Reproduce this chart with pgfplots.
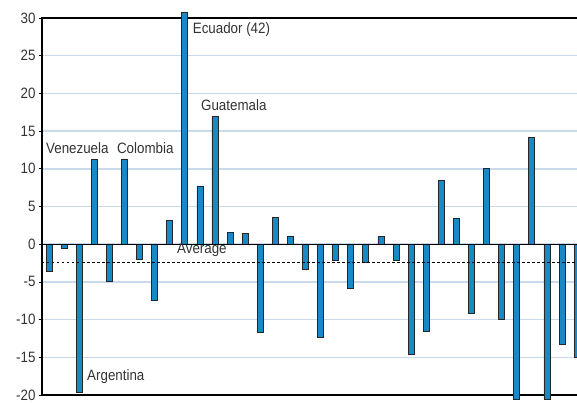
\documentclass[border=0pt]{standalone}
\usepackage{fontspec}
\setmainfont{Liberation Sans}[FakeStretch=0.89]
\usepackage{pgfplots}
\pgfplotsset{compat=1.18}
\definecolor{barblue}{HTML}{1689C6}
\definecolor{gridblue}{HTML}{C9DAEC}
\definecolor{txt}{HTML}{333333}
\begin{document}
\begin{tikzpicture}
\useasboundingbox (-42pt,-7pt) rectangle (535pt,395pt);
\clip (-42pt,-7pt) rectangle (535pt,395pt);
\begin{axis}[
  at={(0pt,0pt)}, anchor=south west,
  x=15.09pt, y=7.54pt,
  xmin=-0.464, xmax=35.6,
  ymin=-20, ymax=30,
  clip=false,
  axis line style={black, line width=1.2pt},
  xtick=\empty,
  ytick={-20,-15,-10,-5,0,5,10,15,20,25,30},
  yticklabels={-20,-15,-10,-5,0,5,10,15,20,25,30},
  yticklabel style={font=\fontsize{15}{16}\selectfont, text=txt},
  tick align=outside,
  major tick length=3pt,
  tick style={black, line width=0.8pt},
  ymajorgrids,
  grid style={gridblue, line width=1.5pt},
  axis on top=false,
]
\addplot[ybar, bar width=6pt, fill=barblue, draw=black!85, line width=0.8pt, bar shift=0pt]
coordinates {
(0,-3.6) (1,-0.6) (2,-19.6) (3,11.2) (4,-4.9) (5,11.3) (6,-2.0) (7,-7.4)
(8,3.1) (9,30.7) (10,7.7) (11,17.0) (12,1.6) (13,1.4) (14,-11.7) (15,3.6)
(16,1.1) (17,-3.3) (18,-12.3) (19,-2.2) (20,-5.8) (21,-2.4) (22,1.0) (23,-2.2)
(24,-14.6) (25,-11.5) (26,8.4) (27,3.4) (28,-9.2) (29,10.0) (30,-9.95) (31,-20.6)
(32,14.1) (33,-20.6) (34,-13.3) (35,-15.0)
};
\addplot[black, line width=1pt, forget plot] coordinates {(-0.464,0) (36,0)};
\addplot[black, line width=1pt, dash pattern=on 2.5pt off 2.5pt, forget plot] coordinates {(-0.464,-2.4) (36,-2.4)};
\begin{scope}[every node/.style={anchor=west, inner sep=0pt, text=txt, font=\fontsize{15}{16}\selectfont}]
\node at (axis cs:-0.2,12.7) {Venezuela};
\node at (axis cs:4.5,12.7) {Colombia};
\node at (axis cs:9.52,28.4) {Ecuador (42)};
\node at (axis cs:10.07,18.4) {Guatemala};
\node at (axis cs:2.52,-17.6) {Argentina};
\node at (axis cs:8.48,-0.8) {Average};
\end{scope}
\end{axis}
\end{tikzpicture}
\end{document}
